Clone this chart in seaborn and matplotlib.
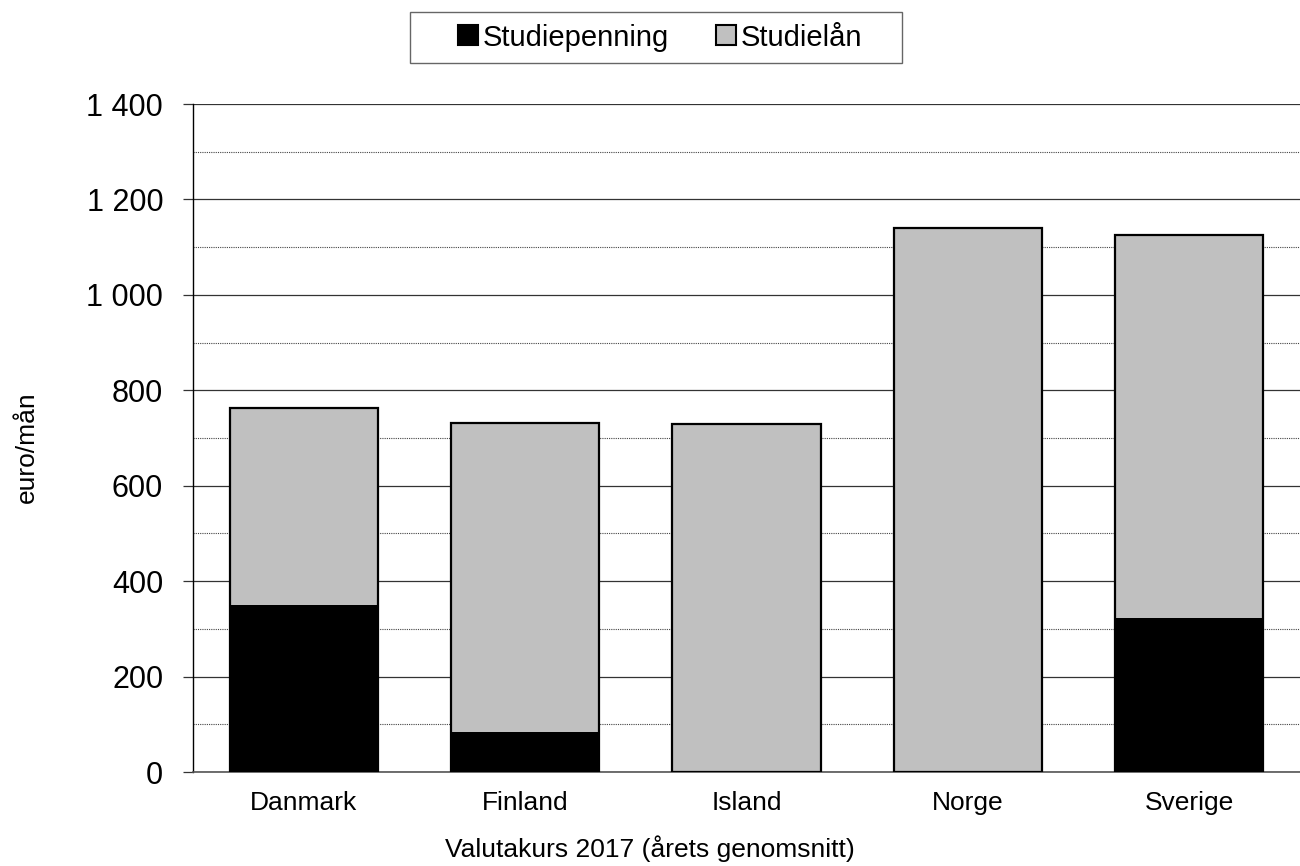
import pandas as pd
import matplotlib.pyplot as plt
import seaborn as sns
from matplotlib.patches import Rectangle
from matplotlib.ticker import MultipleLocator, FuncFormatter

# values (euro per month, 2017 exchange rate)
countries = ["Danmark", "Finland", "Island", "Norge", "Sverige"]
studiepenning = [350, 83, 0, 0, 322]
studielan = [413, 648, 729, 1140, 804]

sns.set_style("white")
plt.rcParams["font.family"] = ["Liberation Sans", "DejaVu Sans"]
plt.rcParams["text.color"] = "black"
plt.rcParams["xtick.color"] = "black"
plt.rcParams["ytick.color"] = "black"

df = pd.DataFrame({
    "land": countries,
    "Studiepenning": studiepenning,
    "Studielån": studielan,
})
df["total"] = df["Studiepenning"] + df["Studielån"]

W, H = 1300, 866
fig = plt.figure(figsize=(W / 100, H / 100), dpi=100)
ax = fig.add_axes([193 / W, 1 - 772 / H, 1107 / W, 668 / H])

# full bar (grey) first, then the black grant part on top of it
sns.barplot(data=df, x="land", y="total", color="#c0c0c0", saturation=1,
            width=0.67, edgecolor="black", linewidth=1.6, label="Studielån",
            ax=ax, zorder=3)
sns.barplot(data=df, x="land", y="Studiepenning", color="black", saturation=1,
            width=0.67, edgecolor="black", linewidth=0, label="Studiepenning",
            ax=ax, zorder=4)

handles, labels = ax.get_legend_handles_labels()
if ax.get_legend() is not None:
    ax.get_legend().remove()

ax.set_xlim(-0.5, 4.5)
ax.set_ylim(0, 1400)
ax.yaxis.set_major_locator(MultipleLocator(200))
ax.yaxis.set_minor_locator(MultipleLocator(100))
ax.yaxis.set_major_formatter(FuncFormatter(lambda v, p: f"{int(v):,}".replace(",", " ")))
ax.grid(axis="y", which="major", color="#333333", linewidth=0.9, linestyle="-", zorder=0)
ax.grid(axis="y", which="minor", color="#444444", linewidth=0.8, linestyle=(0, (1, 1)), zorder=0)
ax.set_axisbelow(True)

# x ticks sit between the categories
ax.set_xticks([i - 0.5 for i in range(len(countries) + 1)], minor=True)
ax.tick_params(axis="x", which="major", length=0, labelsize=19, pad=14)
ax.tick_params(axis="x", which="minor", length=11, width=0.9, color="#333333", direction="inout")
ax.tick_params(axis="y", which="major", length=7.5, width=0.9, color="#333333", direction="out",
               labelsize=22, pad=14, left=True)
ax.tick_params(axis="y", which="minor", length=0)

for side in ["top", "right"]:
    ax.spines[side].set_visible(False)
ax.spines["left"].set_color("black")
ax.spines["left"].set_linewidth(1)
ax.spines["bottom"].set_color("#555555")
ax.spines["bottom"].set_linewidth(1.2)

ax.set_xlabel("")
ax.set_ylabel("")
fig.text(0.5, 1 - 857 / H, "Valutakurs 2017 (årets genomsnitt)", fontsize=19,
         ha="center", va="baseline")
fig.text(27 / W, 1 - 447 / H, "euro/mån", fontsize=19, rotation=90,
         ha="center", va="center")

# legend box on top, frame drawn separately for the wide side padding
fig.patches.append(Rectangle((410 / W, 1 - 63 / H), 492 / W, 51 / H,
                             transform=fig.transFigure, facecolor="white",
                             edgecolor="#666666", linewidth=1))
order = [labels.index("Studiepenning"), labels.index("Studielån")]
leg = fig.legend([handles[i] for i in order], [labels[i] for i in order],
                 loc="center", bbox_to_anchor=(660 / W, 1 - 37.5 / H), ncol=2,
                 fontsize=21, frameon=False, handlelength=0.69,
                 handleheight=0.69, handletextpad=0.15, columnspacing=1.6)
for h in leg.legend_handles:
    h.set_linewidth(1.5)
    h.set_edgecolor("black")

fig.savefig("out.png", dpi=100)
